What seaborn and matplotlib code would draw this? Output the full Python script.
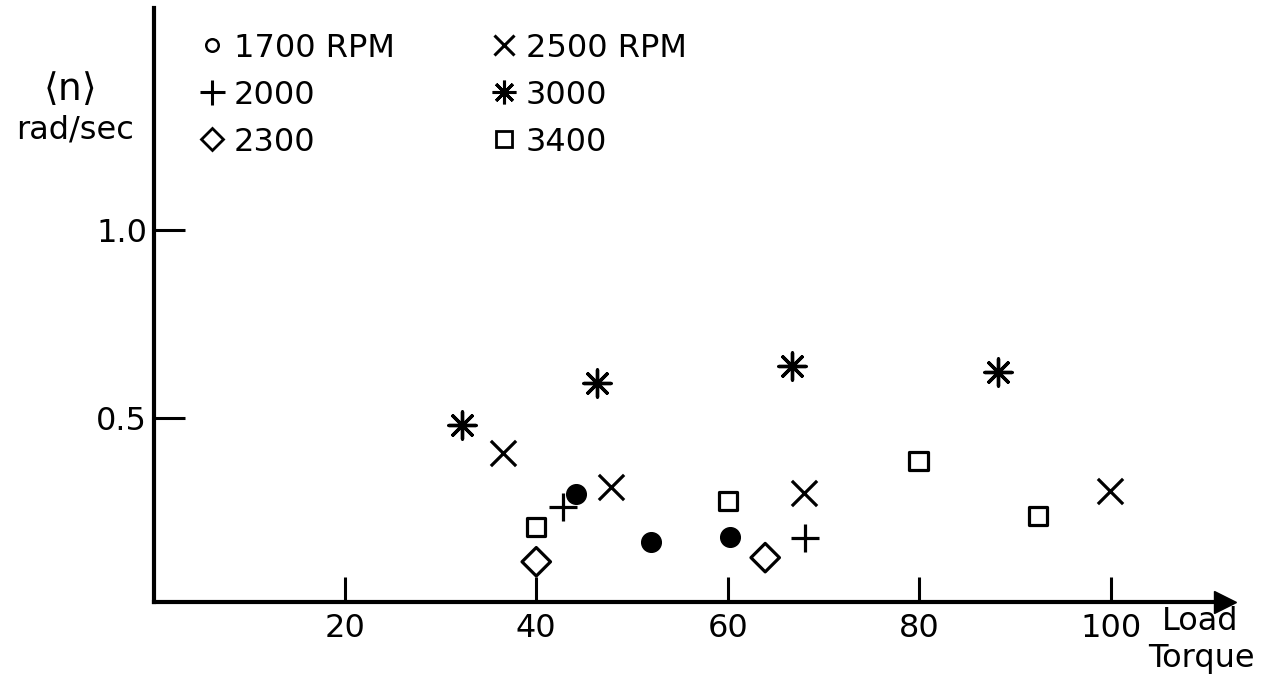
import numpy as np
import pandas as pd
import matplotlib
matplotlib.use("Agg")
import matplotlib.pyplot as plt
from matplotlib.lines import Line2D
import seaborn as sns

# data: load torque vs <n> (rad/sec)
torque_1700 = [44.2, 52.0, 60.2]
n_1700 = [0.298, 0.170, 0.184]

torque_2000 = [42.8, 68.1]
n_2000 = [0.263, 0.181]

torque_2300 = [40.0, 63.9]
n_2300 = [0.117, 0.128]

torque_2500 = [36.5, 47.8, 67.9, 99.9]
n_2500 = [0.407, 0.316, 0.300, 0.306]

torque_3000 = [32.2, 46.3, 66.7, 88.2]
n_3000 = [0.481, 0.593, 0.638, 0.622]

torque_3400 = [40.0, 60.0, 79.9, 92.4]
n_3400 = [0.210, 0.279, 0.386, 0.239]

x_ticks = [20, 40, 60, 80, 100]
y_ticks = [0.5, 1.0]

sns.set_style("ticks")
plt.rcParams["font.family"] = ["DejaVu Sans"]
plt.rcParams["text.color"] = "black"
plt.rcParams["xtick.color"] = "black"
plt.rcParams["ytick.color"] = "black"
plt.rcParams["axes.labelcolor"] = "black"

fig = plt.figure(figsize=(12.66, 6.79), dpi=100)
ax = fig.add_axes([0.1217, 0.1134, 0.8459, 0.8748])

lw = 2.3
# 1700 RPM (drawn as filled dots)
sns.scatterplot(x=torque_1700, y=n_1700, ax=ax, marker="o", s=200,
                color="black", edgecolor="black", linewidth=1, zorder=3)
# 2000 RPM plus
sns.scatterplot(x=torque_2000, y=n_2000, ax=ax, marker="+", s=380,
                color="black", linewidth=lw, zorder=3)
# 2300 RPM open diamond
sns.scatterplot(x=torque_2300, y=n_2300, ax=ax, marker="D", s=210,
                facecolors="none", edgecolor="black", linewidth=lw, zorder=3)
# 2500 RPM cross
sns.scatterplot(x=torque_2500, y=n_2500, ax=ax, marker="x", s=330,
                color="black", linewidth=lw, zorder=3)
# 3000 RPM asterisk
sns.scatterplot(x=torque_3000, y=n_3000, ax=ax, marker=(8, 2, 0), s=380,
                color="black", linewidth=2.4, zorder=3)
# 3400 RPM open square
sns.scatterplot(x=torque_3400, y=n_3400, ax=ax, marker="s", s=170,
                facecolors="none", edgecolor="black", linewidth=lw, zorder=3)

ax.set_xlim(0.1, 111.9)
ax.set_ylim(0.01, 1.59)

ax.set_xticks(x_ticks)
ax.set_xticklabels([str(t) for t in x_ticks])
ax.set_yticks(y_ticks)
ax.set_yticklabels(["0.5", "1.0"])
ax.tick_params(axis="x", direction="in", length=18, width=2.2, pad=8,
               labelsize=23, bottom=True)
ax.tick_params(axis="y", direction="in", length=22, width=2.2, pad=5,
               labelsize=23, left=True)

for side in ["top", "right"]:
    ax.spines[side].set_visible(False)
for side in ["left", "bottom"]:
    ax.spines[side].set_linewidth(3)
    ax.spines[side].set_color("black")

# arrow head at the end of the x axis
ax.plot(1, 0, marker=">", color="black", markersize=16,
        transform=ax.transAxes, clip_on=False)

# axis titles
fig.text(0.0545, 0.869, r"$\langle\mathrm{n}\rangle$", fontsize=27,
         ha="center", va="center")
fig.text(0.059, 0.808, "rad/sec", fontsize=23, ha="center", va="center")
fig.text(0.918, 0.084, "Load", fontsize=23, ha="left", va="center")
fig.text(0.9915, 0.030, "Torque", fontsize=23, ha="right", va="center")

# legend
handles = [
    Line2D([], [], marker="o", ls="none", ms=9, mfc="none", mec="black", mew=1.8),
    Line2D([], [], marker="+", ls="none", ms=18, color="black", mew=2.2),
    Line2D([], [], marker="D", ls="none", ms=11, mfc="none", mec="black", mew=2),
    Line2D([], [], marker="x", ls="none", ms=15, color="black", mew=2.2),
    Line2D([], [], marker=(8, 2, 0), ls="none", ms=17, color="black", mew=2.2),
    Line2D([], [], marker="s", ls="none", ms=11, mfc="none", mec="black", mew=2),
]
labels = ["1700 RPM", "2000", "2300", "2500 RPM", "3000", "3400"]
leg = ax.legend(handles, labels, loc="upper left", bbox_to_anchor=(0.03, 0.98),
                ncol=2, frameon=False, fontsize=23, handlelength=0.8,
                handletextpad=0.3, columnspacing=3.0, labelspacing=0.5,
                borderaxespad=0)

fig.savefig("out.png", dpi=100)
